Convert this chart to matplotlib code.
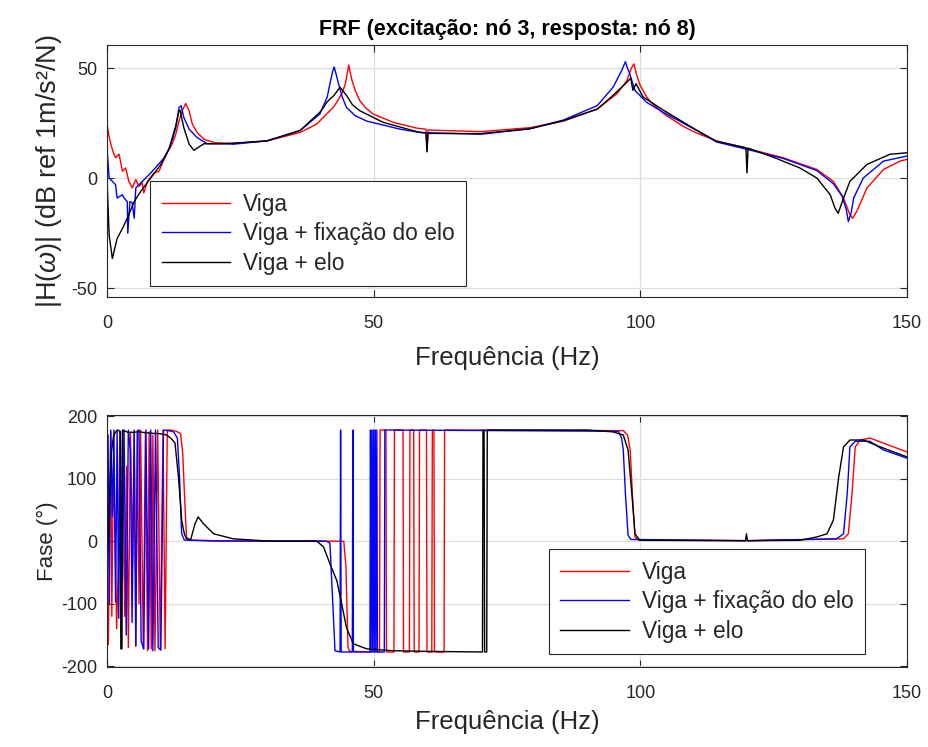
import matplotlib
matplotlib.use("Agg")
import matplotlib.pyplot as plt

plt.rcParams['font.family'] = ['Liberation Sans', 'DejaVu Sans']
plt.rcParams['mathtext.fontset'] = 'custom'
plt.rcParams['mathtext.it'] = 'Liberation Sans:italic'
plt.rcParams['mathtext.rm'] = 'Liberation Sans'
plt.rcParams['axes.unicode_minus'] = False

# ---------------- data ----------------
labels = ["Viga", "Viga + fixação do elo", "Viga + elo"]
colors = ["#ff0000", "#0000ff", "#000000"]

# magnitude (dB)
f_mag_viga = [0, 0.3, 0.7, 1.2, 1.6, 2.25, 2.9, 3.5, 4.1, 4.75, 5.4, 6.0, 6.6, 6.9, 7.6, 8.8, 9.75,
              10.4, 11.3, 12.2, 12.9, 13.5, 14.1, 14.75, 15.4, 16.0, 16.9, 18.2, 20.1, 21.9, 23.7, 30,
              36.2, 39.3, 42.4, 43.2, 44.0, 44.7, 45.1, 45.35, 45.6, 46.0, 46.6, 47.4, 48.5, 49.9, 53.7,
              58.1, 59.8, 60.0, 60.2, 60.6, 70, 79.3, 85.6, 91.9, 95.6, 97.5, 98.3, 98.8, 99.3, 100.0,
              101.2, 102.0, 104.3, 108.1, 110.6, 114.3, 120.6, 126.8, 133.1, 136.2, 138.1, 139.2, 139.8,
              140.6, 142.5, 145.6, 148.7, 150]
mag_viga = [25, 20, 15.6, 11.6, 9.3, 11, 3.2, 4.7, -1.4, -4.4, -0.6, -3.7, -2.1, -6.7, -1.4, 2.4, 3.2,
            7, 11.6, 15.5, 20, 26, 30.7, 34, 30.7, 24.6, 20.8, 17.7, 16.2, 16.0, 15.8, 17,
            20.8, 24.6, 32.2, 35, 38.4, 43, 48.5, 51.5, 48, 44, 39.5, 35.3, 32, 29.2, 25.4,
            22.8, 22.3, 12.5, 22.0, 21.9, 21.2, 23, 26, 31.5, 38.4, 44.5, 50, 52, 47, 42,
            37, 34.5, 29.5, 23.5, 20.5, 17, 13.2, 9.3, 4, -1.4, -9, -16, -18.2,
            -15, -4.4, 4, 7.8, 8.6]

f_mag_fix = [0, 0.4, 1.0, 1.6, 1.9, 2.9, 3.2, 3.8, 3.9, 4.3, 4.7, 5.1, 5.4, 6.0, 7.6, 8.8, 10.7, 11.9,
             12.9, 13.5, 13.9, 14.4, 15.4, 16.9, 18.8, 21.9, 23.7, 30, 36.2, 39.9, 41.3, 41.8, 42.3,
             42.6, 43.0, 43.4, 44.1, 44.9, 46.5, 48.7, 55, 58.7, 70, 79.3, 85.6, 91.9, 94.9, 96.5,
             97.2, 97.6, 98.0, 99.0, 101.2, 104.3, 110.6, 114.3, 120.6, 126.8, 133.1, 136.2, 137.8,
             138.6, 139.0, 139.5, 140.0, 141.8, 145.6, 150]
mag_fix = [13.9, 0.1, -1.4, -2.9, -9, -7.5, -9, -10.6, -25, -10.6, -11, -18.2, -4.4, -2.9, 0.9, 4, 9.3, 14.7,
           23, 32.2, 33, 27.7, 22.3, 18.5, 15.7, 15.7, 15.5, 17, 21.7, 29.2, 37, 43, 48.5,
           50.6, 47, 43, 37, 32.2, 28.5, 26, 22.3, 20.8, 20, 22.5, 26.5, 33, 41.4, 49,
           53, 50, 47.6, 39.9, 34.5, 30, 21.7, 16.5, 12.8, 9, 3.5, -2.5, -8,
           -14, -19.7, -16, -9, 0.1, 7.8, 10.1]

f_mag_elo = [0, 0.4, 1.0, 1.9, 2.9, 3.8, 5.1, 6.3, 8.2, 10.1, 11.6, 12.9, 13.5, 13.7, 14.4, 15.4, 16.3,
             17.2, 18.2, 21.9, 30, 36.2, 39.9, 40.6, 41.2, 41.8, 42.5, 43.7, 44.9, 46.0, 47.4, 51.8,
             58.1, 59.8, 60.0, 60.2, 70, 79.3, 85.6, 92, 95, 97, 98.2, 98.6, 99.2, 100.5, 104.3,
             110.6, 114.3, 119.8, 120.0, 120.2, 125, 129.9, 133.1, 135.6, 136.5, 137.1, 138.1, 139.3,
             142.5, 146.8, 150]
mag_elo = [0, -25.8, -36.5, -27.4, -22.8, -18.2, -10.6, -6, 0.1, 6.3, 13.2, 23.9, 30.7, 31, 23, 15.5, 12.7,
           14.2, 15.7, 15.7, 17, 21.7, 30, 32.2, 34.5, 36, 37.5, 41.4, 37.7, 33.5, 30.7, 25.4,
           21.2, 20.5, 12.0, 20.4, 20.3, 22.5, 26.2, 31.5, 38, 42.5, 45.5, 40, 43, 37, 31,
           21.8, 16.8, 13.9, 2.4, 13.7, 9.5, 4.7, 0.1, -7.5, -13.6, -15.9, -9, -1.4,
           6.3, 10.9, 11.6]

# phase (degrees)
f_ph_viga = [0, 0.25, 0.5, 0.7, 0.9, 1.2, 1.5, 1.8, 2.1, 2.4, 2.7, 3.0, 3.3, 3.7, 4.0, 4.4, 4.8, 5.1,
             5.4, 5.7, 6.0, 6.3, 6.8, 7.2, 7.6, 7.9, 8.3, 8.6, 9.0, 9.5, 10.0, 10.5, 10.9, 11.3, 12.0,
             13.0, 13.8, 14.2, 14.5, 14.9, 15.5, 20, 30, 40, 44.4, 44.8, 45.0, 45.2, 45.5,
             51.1, 51.2, 52.3, 52.4, 53.8, 53.9, 55.5, 55.6, 56.7, 56.8, 57.5, 57.6, 58.5, 58.6,
             59.9, 60.0, 60.9, 61.0, 61.3, 61.4, 63.2, 63.3, 96.8, 97.6, 98.1, 98.5, 99.0, 99.6,
             120, 138.1, 139.0, 139.7, 140.3, 141.2, 143.1, 145.6, 148.1, 150]
ph_viga = [-60, -165, 60, 175, -120, 117, 20, -140, -50, 175, -170, 175, -120, 120, -170, 175, -40, 175,
           -168, 178, -100, 178, -172, 175, -175, 175, -172, 170, -175, 178, -172, 178, -172, 178, 178,
           176, 172, 140, 80, 7, 2, 1, 0.5, 0.5, 0, -40, -111, -170, -176,
           -177, 178, 178, -177, -177, 178, 178, -177, -177, 178, 178, -177, -177, 178,
           178, -177, -177, 178, 178, -177, -177, 178, 177, 170, 146, 77, 7, 2,
           1, 4, 12, 77, 151, 162, 165, 157, 149, 143]

f_ph_fix = [0, 0.2, 0.45, 0.7, 1.0, 1.3, 1.6, 1.9, 2.2, 2.5, 2.9, 3.2, 3.6, 4.0, 4.4, 4.7, 5.1, 5.4,
            5.7, 6.0, 6.4, 6.9, 7.3, 7.8, 8.2, 8.6, 9.1, 9.6, 10.1, 10.6, 11.5, 12.5, 13.2, 13.6,
            14.0, 14.5, 20, 41.2, 41.8, 42.4, 42.75, 43.7, 43.8, 43.9, 46.0, 46.1, 46.2, 49.3, 49.4,
            49.5, 49.7, 49.8, 50.0, 50.1, 50.3, 50.4, 50.6, 50.7, 52.0, 52.1, 95.9, 96.5, 96.8,
            97.2, 97.7, 98.2, 120, 136.8, 138.1, 138.8, 139.3, 140.3, 143, 145.6, 150]
ph_fix = [-20, 170, -100, 178, 40, 178, -97, 178, -123, 176, -60, 178, -150, 178, 143, -130, 178, -167,
          175, 178, -160, -172, 178, -172, 178, -175, 178, -170, -174, 178, 177, 175, 165, 103,
          12, 2, 0.5, 0, -3, -111, -175, -177, 178, -177, -177, 178, -177, -177, 178,
          -177, 178, -177, 178, -177, 178, -177, 178, -177, -177, 178, 176, 165, 146,
          77, 10, 3, 1, 4, 12, 77, 151, 160, 160, 146, 133]

f_ph_elo = [0, 0.4, 0.8, 1.2, 1.6, 2.1, 2.5, 2.6, 2.8, 2.9, 4, 6, 8, 10, 11.2, 12.2, 12.75, 13.4, 14.0,
            14.5, 14.9, 15.7, 16.5, 17.1, 18.1, 20, 23.7, 30, 39.3, 40.6, 41.8, 43.1, 44.0, 44.9,
            46.2, 48.7, 53.7, 60, 70.4, 70.5, 70.7, 70.8, 71.2, 71.3, 90, 94.9, 96.8, 97.7, 98.4,
            99.0, 99.9, 119.7, 119.9, 120.1, 129.9, 133.1, 135.0, 136.2, 137.2, 138.1, 139.3, 141.8,
            145.6, 150]
ph_elo = [-67, 50, 140, 167, 175, 178, 175, -172, -172, 178, 174, 175, 173, 172, 170, 163, 157, 103, 34,
          12, 4, 3, 28, 39, 28, 12, 4, 0.5, 0.5, -9, -36, -63, -100, -138,
          -164, -172, -175, -176, -177, 178, 178, -177, -177, 178, 178, 175, 170, 146, 77,
          12, 1.6, 1, 12, 1, 1.6, 7, 12, 34, 103, 151, 162, 162,
          149, 135]

x_ticks = [0, 50, 100, 150]
mag_ticks = [-50, 0, 50]
ph_ticks = [-200, -100, 0, 100, 200]

# ---------------- plot ----------------
W, H = 929, 747
fig = plt.figure(figsize=(W / 100, H / 100), dpi=100)
axc = "#262626"

def style(ax):
    for s in ax.spines.values():
        s.set_color(axc)
        s.set_linewidth(0.8)
    ax.tick_params(direction='in', top=True, right=True, length=5, width=0.8,
                   colors=axc, labelsize=13, labelcolor=axc)
    ax.tick_params(axis='x', pad=13)
    ax.tick_params(axis='y', pad=7)
    ax.grid(True, color="#dedede", linewidth=0.9)
    ax.set_axisbelow(True)

ax1 = fig.add_axes([107 / W, 1 - 297 / H, 800 / W, 252 / H])
ax2 = fig.add_axes([107 / W, 1 - 667 / H, 800 / W, 252 / H])

for f, m, c, lab in [(f_mag_viga, mag_viga, colors[0], labels[0]),
                     (f_mag_fix, mag_fix, colors[1], labels[1]),
                     (f_mag_elo, mag_elo, colors[2], labels[2])]:
    ax1.plot(f, m, color=c, lw=1.0, label=lab)

for f, p, c, lab in [(f_ph_viga, ph_viga, colors[0], labels[0]),
                     (f_ph_fix, ph_fix, colors[1], labels[1]),
                     (f_ph_elo, ph_elo, colors[2], labels[2])]:
    ax2.plot(f, p, color=c, lw=1.0, label=lab)

for ax in (ax1, ax2):
    style(ax)
    ax.set_xlim(0, 150)
    ax.set_xticks(x_ticks)
ax1.set_xlabel("Frequência (Hz)", fontsize=18.5, color=axc, labelpad=10)
ax2.set_xlabel("Frequência (Hz)", fontsize=18.5, color=axc, labelpad=6)

ax1.set_ylim(-54, 60.6)
ax1.set_yticks(mag_ticks)
ax1.set_ylabel(r"|H($\omega$)| (dB ref 1m/s²/N)", fontsize=19.5, color=axc, labelpad=5)
ax1.set_title("FRF (excitação: nó 3, resposta: nó 8)", fontsize=15.5, fontweight='bold',
              color='black', pad=7)

ax2.set_ylim(-201, 202)
ax2.set_yticks(ph_ticks)
ax2.set_ylabel("Fase (°)", fontsize=16, color=axc, labelpad=2)

for ax, anchor in [(ax1, (0.054, 0.044)), (ax2, (0.5525, 0.052))]:
    leg = ax.legend(loc='lower left', bbox_to_anchor=anchor, fontsize=16.4, frameon=True,
                    fancybox=False, framealpha=1, edgecolor=axc, handlelength=3.0,
                    handletextpad=0.58, borderpad=0.5, labelspacing=0.28, borderaxespad=0)
    leg.get_frame().set_linewidth(0.8)
    for t in leg.get_texts():
        t.set_color(axc)

fig.savefig("out.png", dpi=100)
